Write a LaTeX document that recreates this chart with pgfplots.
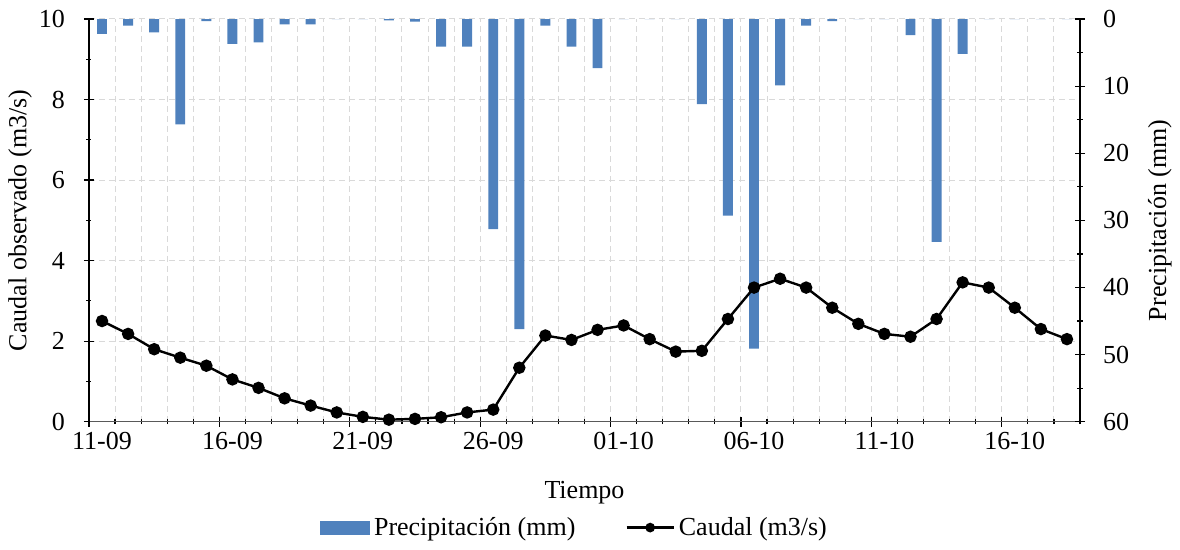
\documentclass[border=0pt]{standalone}
\usepackage{fontspec}
\setmainfont{Liberation Serif}
\usepackage{pgfplots}
\pgfplotsset{compat=1.18}
\usepackage{pgfplotstable}

\definecolor{lluvia}{HTML}{4F81BD}
\definecolor{rejilla}{HTML}{D9D9D9}

% Daily precipitation (mm), day 0 = 11-09
\pgfplotstableread{
dia pp
0 2.2
1 1.0
2 2.0
3 15.7
4 0.3
5 3.7
6 3.5
7 0.8
8 0.8
9 0
10 0
11 0.2
12 0.4
13 4.1
14 4.1
15 31.3
16 46.2
17 1.0
18 4.1
19 7.3
20 0
21 0
22 0
23 12.7
24 29.3
25 49.1
26 9.9
27 1.0
28 0.3
29 0
30 0
31 2.4
32 33.2
33 5.2
34 0
35 0
36 0
37 0
}\precip

% Observed daily discharge (m3/s)
\pgfplotstableread{
dia q
0 2.50
1 2.18
2 1.80
3 1.59
4 1.39
5 1.05
6 0.84
7 0.58
8 0.40
9 0.23
10 0.12
11 0.05
12 0.07
13 0.11
14 0.23
15 0.30
16 1.34
17 2.14
18 2.03
19 2.28
20 2.39
21 2.05
22 1.74
23 1.76
24 2.55
25 3.33
26 3.55
27 3.33
28 2.83
29 2.43
30 2.18
31 2.11
32 2.55
33 3.46
34 3.33
35 2.83
36 2.30
37 2.05
}\caudal

\pgfplotsset{
  base/.style={
    width=495.5pt, height=201.35pt, scale only axis,
    xmin=-0.5, xmax=37.5,
    font=\fontsize{13}{15.5}\selectfont,
    /pgf/number format/assume math mode=true,
    axis line style={-, line width=0.8pt},
    tick align=center, major tick length=5pt, minor tick length=2.5pt,
    tick style={black, line width=0.6pt},
  },
  barra legend/.style={legend image code/.code={%
    \fill[lluvia] (0pt,-3.25pt) rectangle (24.5pt,3.25pt);}},
  linea legend/.style={legend image code/.code={%
    \draw[##1, mark size=1.8pt, mark repeat=2, mark phase=2]
      plot coordinates {(0pt,0pt) (11.75pt,0pt) (23.5pt,0pt)};}},
}

\begin{document}
\begin{tikzpicture}
\useasboundingbox (-44.5pt,-64.15pt) rectangle (545.5pt,210.85pt);

% grid, discharge axis and time axis
\begin{axis}[base,
  ymin=0, ymax=10,
  axis x line*=bottom, axis y line*=left,
  ytick={0,2,...,10}, minor ytick={1,3,...,9},
  yticklabel style={xshift=-6pt},
  xtick={-0.5,4.5,...,34.5}, xticklabels={},
  minor xtick={-0.5,0.5,...,37.5},
  extra x ticks={0,5,...,35},
  extra x tick labels={11-09,16-09,21-09,26-09,01-10,06-10,11-10,16-10},
  extra x tick style={major tick length=0pt, grid=none,
    xticklabel style={yshift=-1.5pt}},
  ymajorgrids, xminorgrids,
  grid style={rejilla, dash pattern=on 3pt off 2pt, line width=0.5pt},
  minor grid style={rejilla, dash pattern=on 3pt off 2pt, line width=0.5pt},
  x axis line style={black!65},
  ylabel={Caudal observado (m3/s)},
  ylabel style={at={(axis description cs:-0.0696,0.5)}, anchor=center},
  xlabel={Tiempo},
  xlabel style={at={(axis description cs:0.5,0)}, anchor=center, yshift=-35.5pt},
]
\end{axis}

% precipitation bars hanging from the top, reversed right axis
\begin{axis}[base,
  ymin=0, ymax=60, y dir=reverse,
  axis y line*=right, axis x line=none,
  ytick={0,10,...,60}, minor ytick={5,15,...,55},
  yticklabel style={xshift=5.5pt},
  ylabel={Precipitación (mm)},
  ylabel style={at={(axis description cs:1.0807,0.5)}, anchor=center},
  ybar, bar width=0.38, bar shift=0pt,
]
\addplot[fill=lluvia, draw=none] table[x=dia, y=pp] {\precip};
\end{axis}

% discharge line on top
\begin{axis}[base,
  ymin=0, ymax=10, hide axis,
  legend style={at={(0.491,-0.263)}, anchor=center, draw=none, fill=none,
    legend columns=2, font=\fontsize{13}{15.5}\selectfont,
    /tikz/every even column/.append style={column sep=23pt}},
  legend cell align=left,
]
\addlegendimage{barra legend}
\addlegendentry{Precipitación (mm)}
\addplot[black, line width=1.2pt, mark=*, mark size=2.5pt, linea legend]
  table[x=dia, y=q] {\caudal};
\addlegendentry{Caudal (m3/s)}
\end{axis}
\end{tikzpicture}
\end{document}
